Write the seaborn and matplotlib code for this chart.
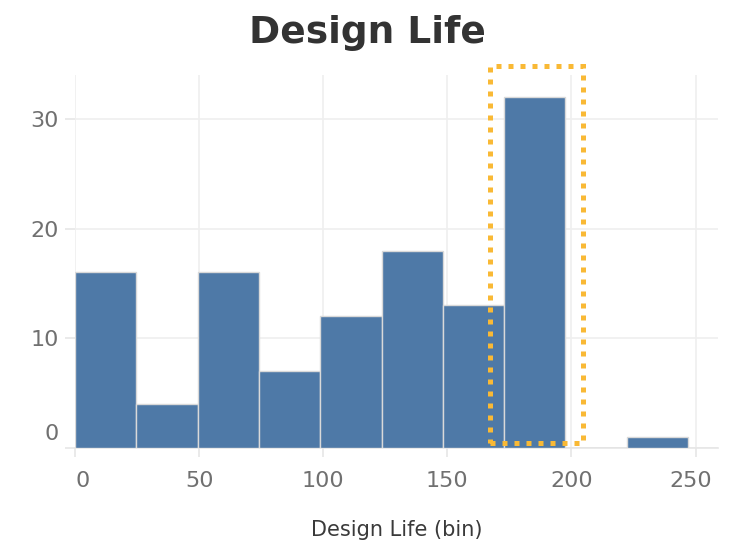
import numpy as np
import matplotlib
matplotlib.use("Agg")
import matplotlib.pyplot as plt
import matplotlib.transforms as mtransforms
from matplotlib.patches import Rectangle
import seaborn as sns

# Binned design-life counts
bin_size = 24.7
bin_index = [0, 1, 2, 3, 4, 5, 6, 7, 8, 9]
counts = [16, 4, 16, 7, 12, 18, 13, 32, 0, 1]
highlight_bin = 7

x_ticks = [0, 50, 100, 150, 200, 250]
y_ticks = [0, 10, 20, 30]

bin_left = [i * bin_size for i in bin_index]
bin_mid = [b + bin_size / 2 for b in bin_left]
edges = [i * bin_size for i in range(len(bin_index) + 1)]

sns.set_theme(style="white")
plt.rcParams["font.family"] = ["DejaVu Sans"]

fig = plt.figure(figsize=(7.34, 5.42), dpi=100)
ax = fig.add_axes([0.1022, 0.1734, 0.978 - 0.1022, 0.8616 - 0.1734])

sns.histplot(x=bin_mid, weights=counts, bins=edges, ax=ax,
             color="#4e79a7", alpha=1.0, edgecolor="#d9d9d9", linewidth=1.0,
             zorder=3)

ax.set_xlim(0, 259)
ax.set_ylim(0, 34)
ax.set_xticks(x_ticks)
ax.set_yticks(y_ticks)
ax.grid(True, color="#efefef", linewidth=1.2, zorder=0)
for s in ["top", "right", "left"]:
    ax.spines[s].set_visible(False)
ax.spines["bottom"].set_color("#e6e6e6")
ax.spines["bottom"].set_linewidth(1.2)
ax.tick_params(axis="both", which="major", width=1.2,
               color="#e6e6e6", labelcolor="#707070", labelsize=16,
               bottom=True, left=True)
ax.tick_params(axis="x", length=6.5, pad=10)
ax.tick_params(axis="y", length=7.2, pad=4.5)

ax.set_ylabel("")
ax.set_xlabel("Design Life (bin)", fontsize=15, color="#3a3a3a",
              labelpad=21)
fig.text(0.5, 0.920, "Design Life", ha="center", va="baseline",
         fontsize=27, fontweight="bold", color="#333333")

# nudge the end labels so they sit inside the plot edges
fig.canvas.draw()
def shift(lab, dx, dy):
    lab.set_transform(lab.get_transform() +
                      mtransforms.ScaledTranslation(dx / 100, dy / 100, fig.dpi_scale_trans))

for lab in ax.get_yticklabels():
    if lab.get_text() == "0":
        shift(lab, 0, 16)
for lab in ax.get_xticklabels():
    if lab.get_text() == "0":
        shift(lab, 8, 0)
    elif lab.get_text() == "250":
        shift(lab, -5, 0)

# dotted highlight box around the tallest bin
hx0 = bin_left[highlight_bin] - 5.6
hx1 = bin_left[highlight_bin] + bin_size + 7.2
box = Rectangle((hx0, 0.48), hx1 - hx0, 34.3, fill=False,
                edgecolor="#f9b935", linewidth=3.6, linestyle=(0, (1, 1.4)),
                clip_on=False, zorder=5)
ax.add_patch(box)

fig.savefig("out.png", dpi=100)
